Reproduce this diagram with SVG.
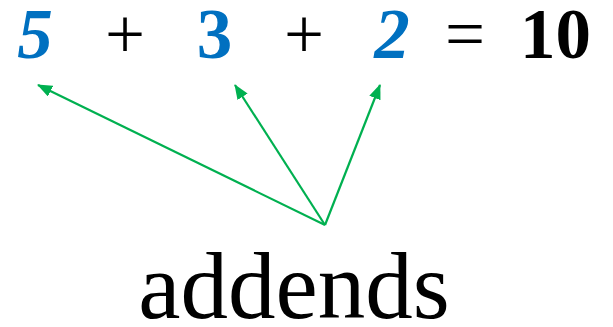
<svg xmlns="http://www.w3.org/2000/svg" width="613" height="327" viewBox="0 0 613 327">
<style>
text{font-family:"Liberation Serif","Times New Roman",serif;font-size:71px;text-anchor:middle}
.d{font-weight:bold;fill:#0070C0}
.i{font-style:italic}
.o{fill:#000}
.r{font-weight:bold;fill:#000}
.l{font-size:95px;fill:#000}
.c{stroke:#00B050;stroke-width:2.2;fill:none;marker-end:url(#ah)}
</style>
<defs>
<marker id="ah" viewBox="0 0 15 12" refX="14" refY="6" markerWidth="15" markerHeight="12" orient="auto" markerUnits="userSpaceOnUse">
<path d="M0,0 L15,6 L0,12 z" fill="#00B050"/>
</marker>
</defs>
<g id="n5"><text class="d i" x="35" y="58">5</text></g>
<g id="plus1"><text class="o" x="125" y="58">+</text></g>
<g id="n3"><text class="d" x="214.5" y="58">3</text></g>
<g id="plus2"><text class="o" x="304" y="58">+</text></g>
<g id="n2"><text class="d i" x="392" y="58">2</text></g>
<g id="eq"><text class="o" x="465" y="58">=</text></g>
<g id="n10"><text class="r" x="555.5" y="58">10</text></g>
<g id="label"><text class="l" x="294" y="318">addends</text></g>
<g id="connectors">
<line class="c" x1="325" y1="225" x2="38" y2="85"/>
<line class="c" x1="325" y1="225" x2="235" y2="85"/>
<line class="c" x1="325" y1="225" x2="380" y2="85"/>
</g>
</svg>
